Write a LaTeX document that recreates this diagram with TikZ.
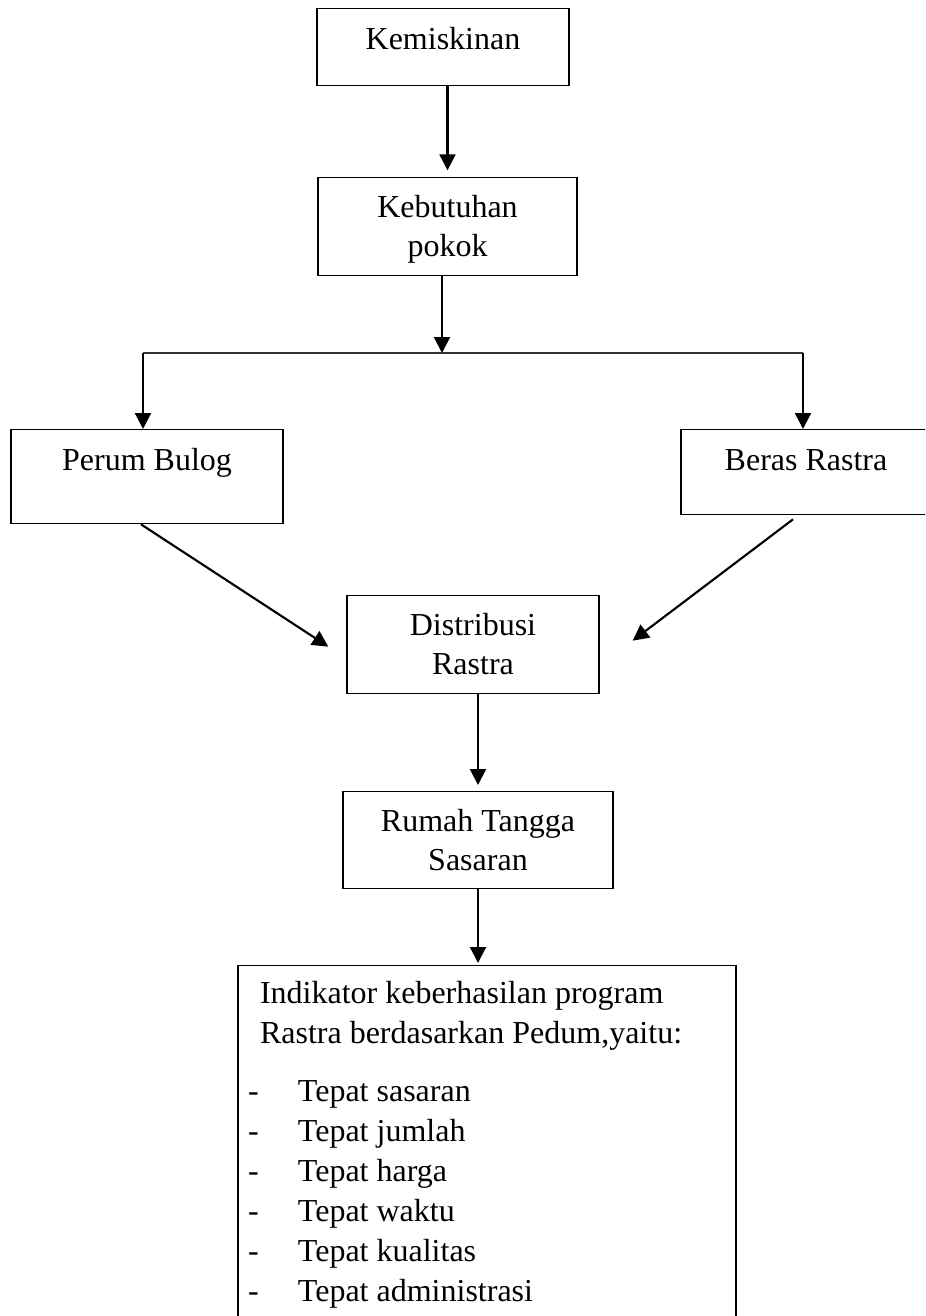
\documentclass[tikz,border=0pt]{standalone}
\usepackage{fontspec}
\setmainfont{Liberation Serif}
\usepackage{tikz}
\usetikzlibrary{arrows.meta, calc, positioning}
\newcommand{\dashitem}[1]{\makebox[37.5pt][l]{-}#1}
\tikzset{
  box/.style   ={draw, rectangle, anchor=north, inner sep=0pt, align=flush center, line width=1pt,
                 font=\fontsize{24}{29}\selectfont},
  listbox/.style={draw, rectangle, anchor=north, inner ysep=0pt, inner xsep=7.5pt, align=flush left,
                 line width=1pt, font=\fontsize{24}{30}\selectfont},
  arr/.style   ={-{Triangle[length=12pt,width=12pt]}, line width=1.6pt},      % box -> box
  link/.style  ={line width=0.8pt, black!80},                                % fork line
}

\begin{document}
\begin{tikzpicture}[x=0.75pt, y=-0.75pt]
  \clip (0,0) rectangle (925,1316);

  % top chain
  \node[box, minimum width=189pt, text height=30.75pt, text depth=27pt]   (kemis) at (443,8)   {Kemiskinan};
  \node[box, minimum width=194.25pt, text height=59pt, text depth=14.5pt] (kebut) at (447.5,177) {Kebutuhan\\pokok};

  % the two branches
  \node[box, minimum width=204pt, text height=30.75pt, text depth=39.75pt] (bulog) at (147,429) {Perum Bulog};
  \node[box, minimum width=187.5pt, text height=30.75pt, text depth=33pt]  (beras) at (806,429) {Beras Rastra};

  % joined again
  \node[box, minimum width=189pt, text height=59pt, text depth=14.5pt]    (distr) at (473,595) {Distribusi\\Rastra};
  \node[box, minimum width=202.5pt, text height=59pt, text depth=13.75pt] (rumah) at (478,791) {Rumah Tangga\\Sasaran};

  % indicators
  \node[listbox, text width=358.5pt, text height=28pt, text depth=252pt] (indik) at (487,965)
    {\hspace*{9pt}Indikator keberhasilan program\\
     \hspace*{9pt}Rastra berdasarkan Pedum,yaitu:\\[14pt]
     \dashitem{Tepat sasaran}\\
     \dashitem{Tepat jumlah}\\
     \dashitem{Tepat harga}\\
     \dashitem{Tepat waktu}\\
     \dashitem{Tepat kualitas}\\
     \dashitem{Tepat administrasi}};

  \coordinate (split) at (442,353);
  \coordinate (forkL) at (143,353);
  \coordinate (forkR) at (803,353);

  \draw[arr, shorten >=5pt] (kemis.south -| kebut.north) -- (kebut.north);
  \draw[arr] (kebut.south -| split) -- (split);
  \draw[link] (forkL) -- (forkR);
  \draw[arr] (forkL) -- (forkL |- bulog.north);
  \draw[arr] (forkR) -- (forkR |- beras.north);
  \draw[arr] ([xshift=-4.5pt]bulog.south) -- ([xshift=-13.5pt,yshift=-1.5pt]distr.west);
  \draw[arr] ([xshift=-9.75pt,yshift=-3pt]beras.south) -- ([xshift=24.75pt,yshift=3pt]distr.east);
  \draw[arr, shorten >=4.5pt] (distr.south -| rumah.north) -- (rumah.north);
  \draw[arr, shorten >=1.5pt] (rumah.south) -- (rumah.south |- indik.north);
\end{tikzpicture}
\end{document}
